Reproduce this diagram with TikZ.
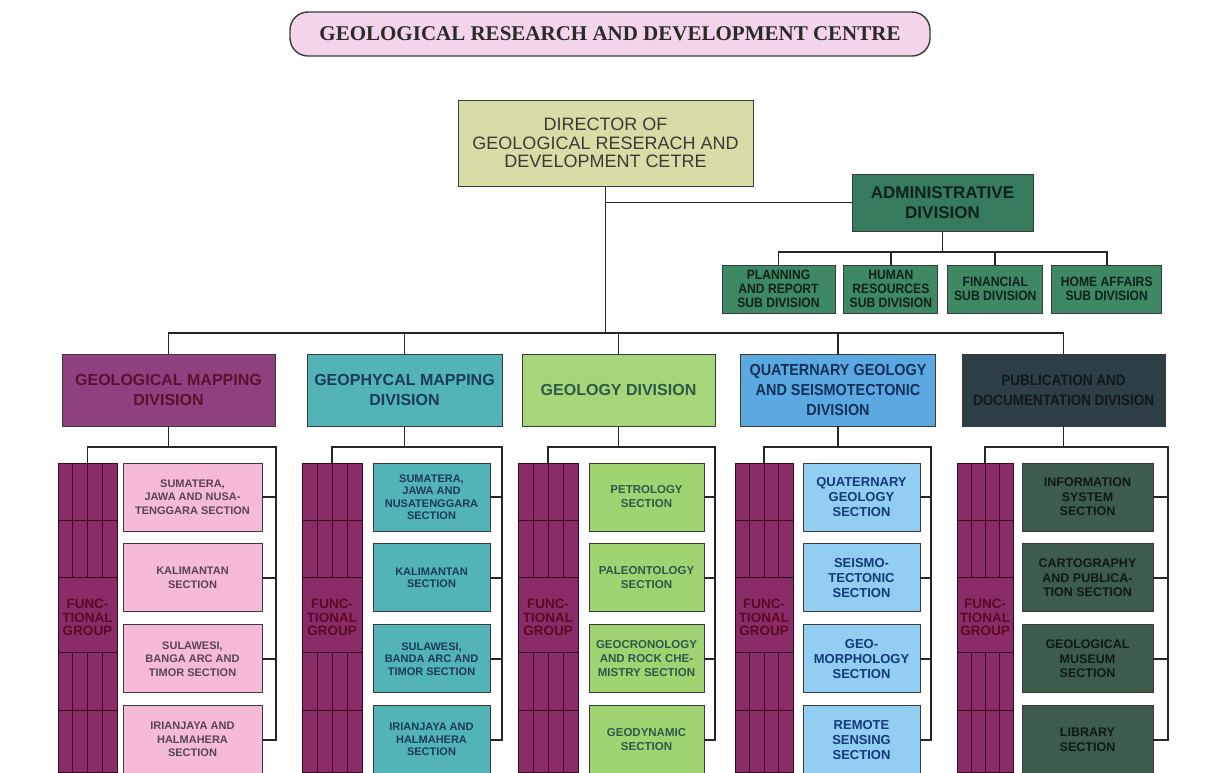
\documentclass[tikz,border=0pt]{standalone}
\usepackage{fontspec}
\setmainfont{Liberation Sans}
\newfontfamily\titlefont{Liberation Serif}
\newfontfamily\narrowfont[FakeStretch=0.9]{Liberation Sans}
\usetikzlibrary{positioning}

\definecolor{titlepink}{HTML}{F3D5EB}
\definecolor{titletext}{HTML}{2A2A2A}
\definecolor{boxline}{HTML}{3A3A3A}
\definecolor{linecol}{HTML}{262626}
\definecolor{dirfill}{HTML}{D8DCA6}
\definecolor{dirtext}{HTML}{3A3C34}
\definecolor{admfill}{HTML}{357B5C}
\definecolor{admtext}{HTML}{0F2219}
\definecolor{subfill}{HTML}{3E8864}
\definecolor{gmfill}{HTML}{8F417F}
\definecolor{gmtext}{HTML}{5C1030}
\definecolor{gpfill}{HTML}{52B4B6}
\definecolor{gptext}{HTML}{1C3A5C}
\definecolor{gdfill}{HTML}{A6D67A}
\definecolor{gdtext}{HTML}{2D5A48}
\definecolor{qdfill}{HTML}{5CA9E2}
\definecolor{qdtext}{HTML}{12305A}
\definecolor{pdfill}{HTML}{2F3F47}
\definecolor{pdtext}{HTML}{10181C}
\definecolor{s1fill}{HTML}{F5BAD6}
\definecolor{s1text}{HTML}{5A4452}
\definecolor{s3fill}{HTML}{9FD472}
\definecolor{s4fill}{HTML}{92CDF2}
\definecolor{s4text}{HTML}{143A78}
\definecolor{s5fill}{HTML}{3D5C4C}
\definecolor{s5text}{HTML}{0E1A14}
\definecolor{fgfill}{HTML}{8A2C68}
\definecolor{fgline}{HTML}{3A0820}
\definecolor{fgtext}{HTML}{5A0A22}

\tikzset{
  box/.style={draw=boxline, line width=0.9pt, align=center, inner sep=1pt},
  divbox/.style={box, minimum height=72pt, font=\bfseries\fontsize{16}{20}\selectfont},
  subbox/.style={box, fill=subfill, text=admtext, minimum height=48pt,
    font=\narrowfont\bfseries\fontsize{13.5}{14}\selectfont},
  secbox/.style={box, minimum height=68pt},
  sec1/.style={secbox, fill=s1fill, text=s1text, minimum width=139pt,
    font=\bfseries\fontsize{11}{13.5}\selectfont},
  sec2/.style={secbox, fill=gpfill, text=gptext, minimum width=117pt,
    font=\bfseries\fontsize{11}{12.5}\selectfont},
  sec3/.style={secbox, fill=s3fill, text=gdtext, minimum width=115pt,
    font=\bfseries\fontsize{11.5}{14}\selectfont},
  sec4/.style={secbox, fill=s4fill, text=s4text, minimum width=117pt,
    font=\bfseries\fontsize{13}{15}\selectfont},
  sec5/.style={secbox, fill=s5fill, text=s5text, minimum width=131pt,
    font=\bfseries\fontsize{12.5}{14.5}\selectfont},
  fgroup/.style={box, draw=fgline, fill=fgfill, text=fgtext, minimum height=309pt,
    font=\bfseries\fontsize{13.5}{13.5}\selectfont},
  link/.style={draw=linecol, line width=1.8pt},
}

\begin{document}
\begin{tikzpicture}[x=1pt, y=-1pt]
\useasboundingbox (0,0) rectangle (1209,772);

% title
\node[draw=boxline, line width=1.4pt, rounded corners=18pt, fill=titlepink, text=titletext,
  minimum width=640pt, minimum height=44pt, font=\titlefont\bfseries\fontsize{21}{24}\selectfont]
  (title) at (610,34) {GEOLOGICAL RESEARCH AND DEVELOPMENT CENTRE};

% director and administration
\node[box, fill=dirfill, text=dirtext, minimum width=295pt, minimum height=86pt,
  font=\fontsize{18}{18.5}\selectfont] (dir) at (605.5,143)
  {DIRECTOR OF\\GEOLOGICAL RESERACH AND\\DEVELOPMENT CETRE};
\node[box, fill=admfill, text=admtext, minimum width=181pt, minimum height=57pt,
  font=\bfseries\fontsize{17}{20}\selectfont] (adm) at (942.5,202.5) {ADMINISTRATIVE\\DIVISION};
\node[subbox, minimum width=113pt] (plan) at (778.5,289) {PLANNING\\AND REPORT\\SUB DIVISION};
\node[subbox, minimum width=94pt, right=8pt of plan] (hum) {HUMAN\\RESOURCES\\SUB DIVISION};
\node[subbox, minimum width=95pt, right=9pt of hum] (fin) {FINANCIAL\\SUB DIVISION};
\node[subbox, minimum width=110pt, right=8pt of fin] (home) {HOME AFFAIRS\\SUB DIVISION};

% divisions
\node[divbox, fill=gmfill, text=gmtext, minimum width=213pt] (gmd) at (168.5,390)
  {GEOLOGICAL MAPPING\\DIVISION};
\node[divbox, fill=gpfill, text=gptext, minimum width=195pt] (gpd) at (404.5,390)
  {GEOPHYCAL MAPPING\\DIVISION};
\node[divbox, fill=gdfill, text=gdtext, minimum width=193pt] (gd) at (618.5,390)
  {GEOLOGY DIVISION};
\node[divbox, fill=qdfill, text=qdtext, minimum width=195pt,
  font=\narrowfont\bfseries\fontsize{16}{20}\selectfont] (qd) at (838,390)
  {QUATERNARY GEOLOGY\\AND SEISMOTECTONIC\\DIVISION};
\node[divbox, fill=pdfill, text=pdtext, minimum width=203pt,
  font=\narrowfont\bfseries\fontsize{15}{20}\selectfont] (pd) at (1063.5,390)
  {PUBLICATION AND\\DOCUMENTATION DIVISION};

% functional groups
\foreach \g/\x/\w in {1/87.5/59, 2/332/60, 3/548/60, 4/764/58, 5/985/56} {
  \node[fgroup, minimum width=\w*1pt] (fg\g) at (\x,617.5) {FUNC-\\TIONAL\\GROUP};
  \foreach \y in {520,577,652,710}
    \draw[fgline, line width=1pt] ({\x-\w/2},\y) -- ({\x+\w/2},\y);
  \foreach \f in {-0.25,0,0.25} {
    \draw[fgline, line width=1pt] ({\x+\f*\w},463) -- ({\x+\f*\w},577);
    \draw[fgline, line width=1pt] ({\x+\f*\w},652) -- ({\x+\f*\w},772);
  }
}

% sections
\node[sec1] (s1a) at (192.5,497) {SUMATERA,\\JAWA AND NUSA-\\TENGGARA SECTION};
\node[sec1, below=12pt of s1a] (s1b) {KALIMANTAN\\SECTION};
\node[sec1, below=12pt of s1b] (s1c) {SULAWESI,\\BANGA ARC AND\\TIMOR SECTION};
\node[sec1, below=12pt of s1c] (s1d) {IRIANJAYA AND\\HALMAHERA\\SECTION};

\node[sec2] (s2a) at (431.5,497) {SUMATERA,\\JAWA AND\\NUSATENGGARA\\SECTION};
\node[sec2, below=12pt of s2a] (s2b) {KALIMANTAN\\SECTION};
\node[sec2, below=12pt of s2b] (s2c) {SULAWESI,\\BANDA ARC AND\\TIMOR SECTION};
\node[sec2, below=12pt of s2c] (s2d) {IRIANJAYA AND\\HALMAHERA\\SECTION};

\node[sec3] (s3a) at (646.5,497) {PETROLOGY\\SECTION};
\node[sec3, below=12pt of s3a] (s3b) {PALEONTOLOGY\\SECTION};
\node[sec3, below=12pt of s3b] (s3c) {GEOCRONOLOGY\\AND ROCK CHE-\\MISTRY SECTION};
\node[sec3, below=12pt of s3c] (s3d) {GEODYNAMIC\\SECTION};

\node[sec4] (s4a) at (861.5,497) {QUATERNARY\\GEOLOGY\\SECTION};
\node[sec4, below=12pt of s4a] (s4b) {SEISMO-\\TECTONIC\\SECTION};
\node[sec4, below=12pt of s4b] (s4c) {GEO-\\MORPHOLOGY\\SECTION};
\node[sec4, below=12pt of s4c] (s4d) {REMOTE\\SENSING\\SECTION};

\node[sec5] (s5a) at (1087.5,497) {INFORMATION\\SYSTEM\\SECTION};
\node[sec5, below=12pt of s5a] (s5b) {CARTOGRAPHY\\AND PUBLICA-\\TION SECTION};
\node[sec5, below=12pt of s5b] (s5c) {GEOLOGICAL\\MUSEUM\\SECTION};
\node[sec5, below=12pt of s5c] (s5d) {LIBRARY\\SECTION};

% connectors
\coordinate (mainbus) at (0,333);
\coordinate (admbus) at (0,252);
\draw[link] (dir.south) -- (dir.south |- mainbus);
\draw[link] (dir.south |- adm.west) -- (adm.west);
\draw[link] (adm.south) -- (adm.south |- admbus);
\draw[link] (plan.north) |- (home.north |- admbus) -- (home.north);
\draw[link] (hum.north) -- (hum.north |- admbus);
\draw[link] (fin.north) -- (fin.north |- admbus);
\draw[link] (gmd.north) |- (pd.north |- mainbus) -- (pd.north);
\draw[link] (gpd.north) -- (gpd.north |- mainbus);
\draw[link] (gd.north) -- (gd.north |- mainbus);
\draw[link] (qd.north) -- (qd.north |- mainbus);

\foreach \g/\d/\rx in {1/gmd/276, 2/gpd/502, 3/gd/715, 4/qd/931, 5/pd/1168} {
  \coordinate (r\g) at (\rx,447);
  \draw[link] (\d.south) -- (\d.south |- r\g);
  \draw[link] (fg\g.north) |- (r\g) -- (r\g |- s\g d.east) -- (s\g d.east);
  \foreach \s in {a,b,c}
    \draw[link] (s\g\s.east) -- (s\g\s.east -| r\g);
}
\end{tikzpicture}
\end{document}
